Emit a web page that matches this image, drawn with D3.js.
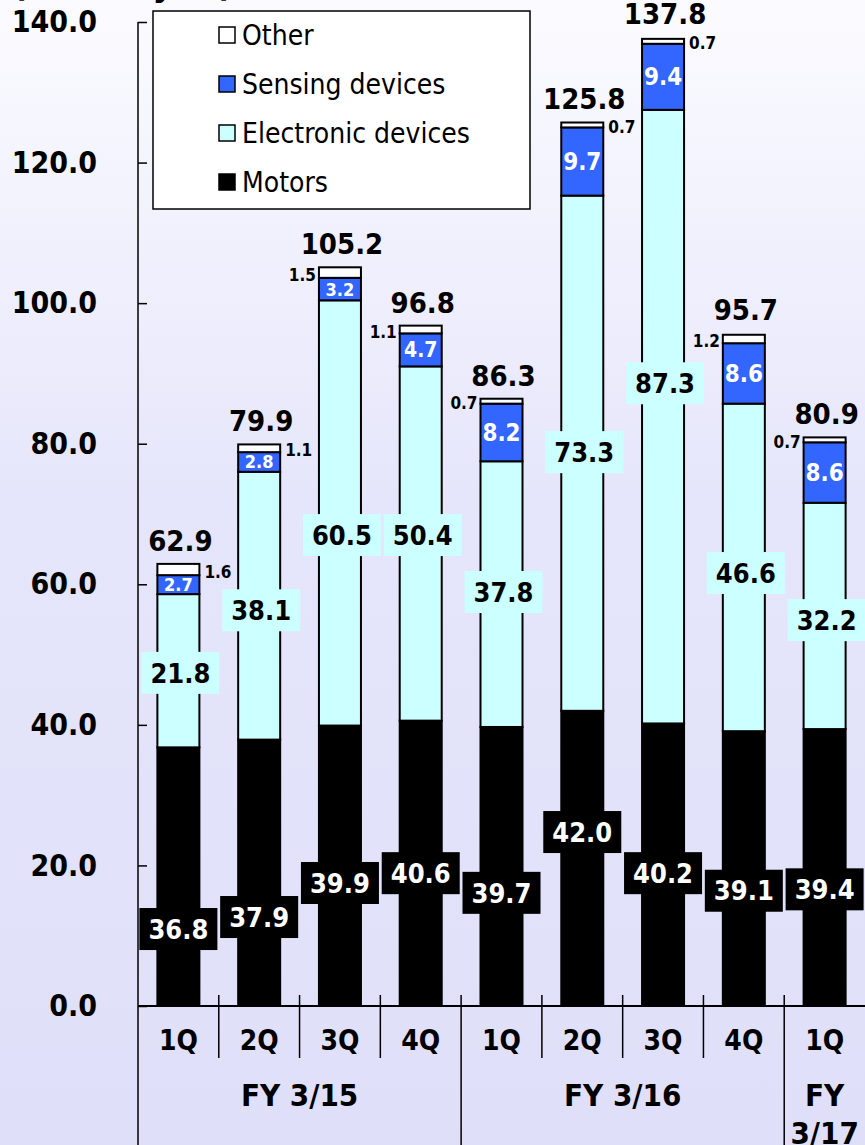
<!DOCTYPE html>
<html>
<head>
<meta charset="utf-8">
<script src="https://cdn.jsdelivr.net/npm/d3@7"></script>
<style>
  html, body { margin: 0; padding: 0; }
  body { width: 865px; height: 1145px; overflow: hidden; }
  svg { display: block; }
  text { font-family: "DejaVu Sans Condensed", "DejaVu Sans", sans-serif; }
</style>
</head>
<body>
<svg id="chart" width="865" height="1145"></svg>
<script>
// Quarterly net sales by segment (billion yen)
const quarters = ["1Q", "2Q", "3Q", "4Q", "1Q", "2Q", "3Q", "4Q", "1Q"];
const fiscalYears = [
  { label: ["FY 3/15"], from: 0, to: 4 },
  { label: ["FY 3/16"], from: 4, to: 8 },
  { label: ["FY", "3/17"], from: 8, to: 9 }
];
const motors     = [36.8, 37.9, 39.9, 40.6, 39.7, 42.0, 40.2, 39.1, 39.4];
const electronic = [21.8, 38.1, 60.5, 50.4, 37.8, 73.3, 87.3, 46.6, 32.2];
const sensing    = [2.7, 2.8, 3.2, 4.7, 8.2, 9.7, 9.4, 8.6, 8.6];
const other      = [1.6, 1.1, 1.5, 1.1, 0.7, 0.7, 0.7, 1.2, 0.7];
const totals     = [62.9, 79.9, 105.2, 96.8, 86.3, 125.8, 137.8, 95.7, 80.9];
const yTicks     = [0, 20, 40, 60, 80, 100, 120, 140];

// Where the boxed value labels sit (in axis units) and which side the small labels go
const motorLabelAt = [10.95, 12.66, 17.5, 18.9, 16.1, 24.75, 18.9, 16.4, 16.6];
const elecLabelAt  = [47.4, 56.3, 67.0, 67.0, 58.9, 78.8, 88.6, 61.6, 54.9];
const otherSide    = ["right", "right", "left", "left", "left", "right", "right", "left", "left"];

const keys = ["motors", "electronic", "sensing", "other"];
const names = { motors: "Motors", electronic: "Electronic devices", sensing: "Sensing devices", other: "Other" };
const colors = { motors: "#000000", electronic: "#ccffff", sensing: "#3366ff", other: "#ffffff" };

const rows = quarters.map((q, i) => ({
  i, motors: motors[i], electronic: electronic[i], sensing: sensing[i], other: other[i]
}));
const series = d3.stack().keys(keys)(rows);

const svg = d3.select("#chart");
const W = 865, H = 1145;

// background gradient
const defs = svg.append("defs");
const grad = defs.append("linearGradient").attr("id", "bg").attr("x1", 0).attr("y1", 0).attr("x2", 0).attr("y2", 1);
grad.append("stop").attr("offset", "0%").attr("stop-color", "#fbfbff");
grad.append("stop").attr("offset", "45%").attr("stop-color", "#e5e5fb");
grad.append("stop").attr("offset", "100%").attr("stop-color", "#dfdff9");
svg.append("rect").attr("width", W).attr("height", H).attr("fill", "url(#bg)");

const x = d3.scaleBand().domain(d3.range(quarters.length)).range([138, 865])
  .paddingInner(0.48).paddingOuter(0.24);
const step = x.step();
const bandStart = i => 138 + i * step;
const cx = i => x(i) + x.bandwidth() / 2;
const y = d3.scaleLinear().domain([0, 140]).range([1006, 22]);

// unit caption (runs off the top edge)
svg.append("text").attr("x", 12).attr("y", -4)
  .attr("font-size", 36).attr("font-weight", "bold").text("(Billion yen)");

// y axis
const yAxis = svg.append("g").attr("transform", "translate(138,0)")
  .call(d3.axisLeft(y).tickValues(yTicks).tickFormat(d3.format(".1f"))
    .tickSizeInner(-9).tickSizeOuter(0).tickPadding(41));
yAxis.select(".domain").remove();
yAxis.selectAll(".tick line").attr("stroke", "#000").attr("stroke-width", 1.5);
yAxis.selectAll(".tick text").attr("font-size", 30).attr("font-weight", "bold")
  .attr("font-family", "DejaVu Sans Condensed, DejaVu Sans, sans-serif").attr("fill", "#000");

// bars
const layer = svg.append("g");
series.forEach(s => {
  layer.selectAll(null).data(s).enter().append("rect")
    .attr("x", (d, i) => x(i))
    .attr("width", x.bandwidth())
    .attr("y", d => y(d[1]))
    .attr("height", d => y(d[0]) - y(d[1]))
    .attr("fill", colors[s.key])
    .attr("stroke", "#000")
    .attr("stroke-width", 2);
});

// x axis line, separators
svg.append("line").attr("x1", 138).attr("x2", 865).attr("y1", y(0)).attr("y2", y(0))
  .attr("stroke", "#000").attr("stroke-width", 2);
svg.append("line").attr("x1", 138).attr("x2", 138).attr("y1", y(140)).attr("y2", H)
  .attr("stroke", "#000").attr("stroke-width", 1.5);
const groupEdges = fiscalYears.map(f => f.from);
d3.range(1, quarters.length).forEach(i => {
  const major = groupEdges.includes(i);
  svg.append("line").attr("x1", bandStart(i)).attr("x2", bandStart(i))
    .attr("y1", y(0) - 11).attr("y2", major ? H : 1058)
    .attr("stroke", "#000").attr("stroke-width", 1.5);
});

// quarter labels
const xAxis = svg.append("g").attr("transform", `translate(0,${y(0)})`)
  .call(d3.axisBottom(x).tickSize(0).tickPadding(24).tickFormat(i => quarters[i]));
xAxis.select(".domain").remove();
xAxis.selectAll(".tick text").attr("font-size", 28).attr("font-weight", "bold")
  .attr("font-family", "DejaVu Sans Condensed, DejaVu Sans, sans-serif").attr("fill", "#000");

// fiscal year labels
fiscalYears.forEach(f => {
  const mx = (bandStart(f.from) + bandStart(f.to)) / 2;
  f.label.forEach((t, k) => {
    svg.append("text").attr("x", mx).attr("y", 1106 + k * 38)
      .attr("text-anchor", "middle").attr("font-size", 31).attr("font-weight", "bold").text(t);
  });
});

// motor value boxes
const boxW = 78, boxH = 42;
motors.forEach((v, i) => {
  const cy = y(motorLabelAt[i]);
  svg.append("rect").attr("x", cx(i) - boxW / 2).attr("y", cy - boxH / 2)
    .attr("width", boxW).attr("height", boxH).attr("fill", "#000");
  svg.append("text").attr("x", cx(i)).attr("y", cy).attr("dy", "0.36em")
    .attr("text-anchor", "middle").attr("fill", "#fff").attr("font-size", 27)
    .attr("font-weight", "bold").text(d3.format(".1f")(v));
});

// electronic value boxes
electronic.forEach((v, i) => {
  const cy = y(elecLabelAt[i]);
  svg.append("rect").attr("x", cx(i) + 2 - boxW / 2).attr("y", cy - boxH / 2)
    .attr("width", boxW).attr("height", boxH).attr("fill", "#ccffff");
  svg.append("text").attr("x", cx(i) + 2).attr("y", cy).attr("dy", "0.36em")
    .attr("text-anchor", "middle").attr("fill", "#000").attr("font-size", 27)
    .attr("font-weight", "bold").text(d3.format(".1f")(v));
});

// sensing labels inside the blue segment
const sensingSeries = series.find(s => s.key === "sensing");
sensingSeries.forEach((d, i) => {
  const v = sensing[i];
  const fs = v < 4 ? 18 : v < 6 ? 21 : 24;
  svg.append("text").attr("x", cx(i)).attr("y", (y(d[0]) + y(d[1])) / 2).attr("dy", "0.36em")
    .attr("text-anchor", "middle").attr("fill", "#fff").attr("font-size", fs)
    .attr("font-weight", "bold").text(d3.format(".1f")(v));
});

// other labels beside the bar
const otherSeries = series.find(s => s.key === "other");
otherSeries.forEach((d, i) => {
  const right = otherSide[i] === "right";
  svg.append("text")
    .attr("x", right ? x(i) + x.bandwidth() + 5 : x(i) - 3)
    .attr("y", (y(d[0]) + y(d[1])) / 2 + 2).attr("dy", "0.36em")
    .attr("text-anchor", right ? "start" : "end").attr("fill", "#000").attr("font-size", 17)
    .attr("font-weight", "bold").text(d3.format(".1f")(other[i]));
});

// totals above bars
totals.forEach((t, i) => {
  svg.append("text").attr("x", cx(i) + 2).attr("y", y(t) - 13)
    .attr("text-anchor", "middle").attr("fill", "#000").attr("font-size", 29)
    .attr("font-weight", "bold").text(d3.format(".1f")(t));
});

// legend
const lg = svg.append("g");
lg.append("rect").attr("x", 153).attr("y", 11).attr("width", 377).attr("height", 198)
  .attr("fill", "#fff").attr("stroke", "#000").attr("stroke-width", 1.5);
["other", "sensing", "electronic", "motors"].forEach((k, j) => {
  const cy = 35 + j * 49;
  lg.append("rect").attr("x", 219).attr("y", cy - 8).attr("width", 16).attr("height", 16)
    .attr("fill", colors[k]).attr("stroke", "#000").attr("stroke-width", 1.5);
  lg.append("text").attr("x", 242).attr("y", cy).attr("dy", "0.36em")
    .attr("font-size", 28).attr("fill", "#000").text(names[k]);
});
</script>
</body>
</html>
